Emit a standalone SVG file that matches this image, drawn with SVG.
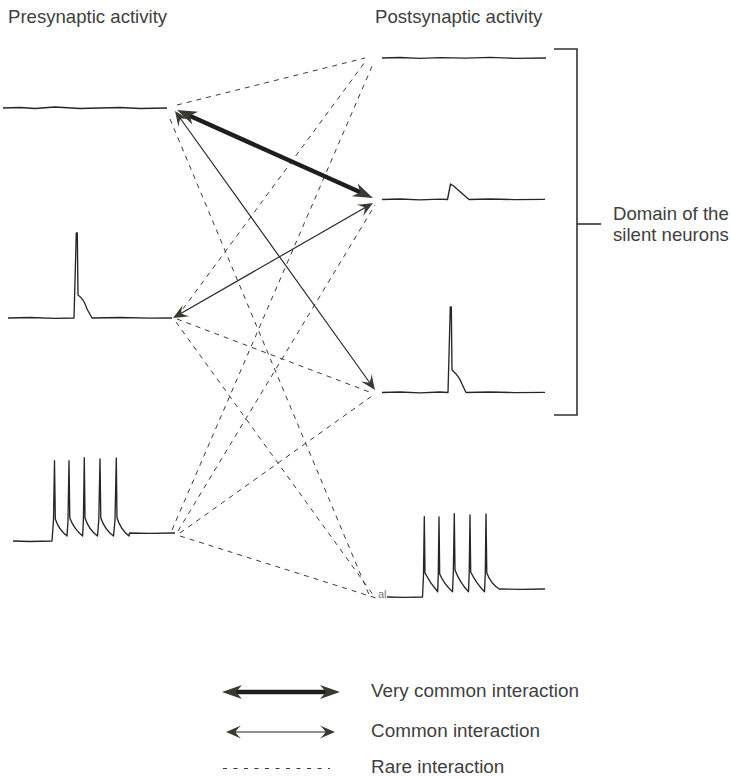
<svg xmlns="http://www.w3.org/2000/svg" width="731" height="778" viewBox="0 0 731 778">
<style>
  text { font-family: "Liberation Sans", Arial, sans-serif; fill: #404040; }
  .title { font-size: 18.6px; }
  .lbl { font-size: 18.9px; }
  .trace { fill: none; stroke: #262626; stroke-width: 1.35; stroke-linejoin: round; }
  .rare { fill: none; stroke: #3a3a3a; stroke-width: 1; stroke-dasharray: 5 5; }
  .thick { fill: none; stroke: #1e1e1e; stroke-width: 4.4; marker-start: url(#headThick); marker-end: url(#headThick); }
  .thin { fill: none; stroke: #222; stroke-width: 1.15; marker-start: url(#headThin); marker-end: url(#headThin); }
  .bracket { fill: none; stroke: #333; stroke-width: 1.6; }
</style>
<defs>
  <marker id="headThick" viewBox="-25 -12 30 24" markerWidth="30" markerHeight="24" refX="-12" refY="0" orient="auto-start-reverse" markerUnits="userSpaceOnUse">
    <path d="M0,0 L-20,-7 L-14,0 L-20,7 Z" fill="#393b33"/>
  </marker>
  <marker id="headThin" viewBox="-25 -12 30 24" markerWidth="30" markerHeight="24" refX="-8" refY="0" orient="auto-start-reverse" markerUnits="userSpaceOnUse">
    <path d="M0,0 Q-7,-3 -15,-6.5 Q-10.5,-2.2 -9.5,0 Q-10.5,2.2 -15,6.5 Q-7,3 0,0 Z" fill="#393b33"/>
  </marker>
</defs>

<text class="title" x="8" y="22.5">Presynaptic activity</text>
<text class="title" x="375" y="22.5">Postsynaptic activity</text>

<g id="pre1">
  <path class="trace" d="M3,108 L20,107.5 L35,108.5 L55,107 L80,108.5 L100,108 L120,107.5 L140,108.5 L167,108"/>
</g>
<g id="pre2">
  <path class="trace" d="M8,318 L30,317.5 L55,318.3 L74,318 L76.3,233 L77.3,233 L78,295 Q84,299 87,309 L92,318 L120,317.5 L150,318.2 L172,318"/>
</g>
<g id="pre3">
  <path class="trace" d="M13,541 L30,541.5 L52,541 L53.5,520 L54.5,460.7 L55.3,519 Q59,530 67,536 L68,521 L69,460.7 L69.8,518 Q74,529 82.6,536 L83.4,520 L84.3,457.7 L85,518 Q89,530 97.5,536 L98.8,520 L100,459 L100.8,518 Q105,530 113.5,536 L115,520 L116.3,458 L117,518 Q121,530 129,536 L129.5,533 L150,533.3 L175,533"/>
</g>
<g id="post1">
  <path class="trace" d="M382,58 L400,57.5 L420,58.3 L440,57.6 L465,58.2 L490,57.4 L515,58.3 L546,58"/>
</g>
<g id="post2">
  <path class="trace" d="M382,199.5 L400,199 L420,199.8 L440,199.2 L447.5,199.5 L450.5,184 L453,185.5 L469,199.5 L490,199 L515,199.6 L545,199.3"/>
</g>
<g id="post3">
  <path class="trace" d="M382,392.5 L400,392 L420,392.8 L440,392 L448,392.5 L450.3,307 L451.3,307 L452,370 Q459,376 462,384 L466,392.5 L490,392 L515,392.6 L545,392.3"/>
</g>
<g id="post4">
  <text x="378" y="598" style="font-size:11px; fill:#777;">al</text>
  <path class="trace" d="M387,597 L405,597.3 L422.5,597 L423.5,575 L424.3,516.7 L425,573 Q430,583 437.7,591.7 L438.3,573 L439,517 L439.7,574 Q444,584 452.5,591.7 L453.3,573 L454.3,513.7 L455,570 Q460,583 468.5,591.7 L469.2,573 L470,515 L470.7,572 Q476,583 484.5,591.7 L485.3,573 L486,514 L486.8,573 Q491,584 499.3,589 L520,589.3 L545,589"/>
</g>

<g id="domain">
  <path class="bracket" d="M554,49 L577,49 L577,415 L554,415"/>
  <path class="bracket" d="M577,224 L601,224"/>
  <text class="title" x="613" y="220">Domain of the</text>
  <text class="title" x="613" y="241">silent neurons</text>
</g>

<g id="connectors">
  <line class="rare" x1="177" y1="105" x2="365" y2="58"/>
  <line class="rare" x1="170" y1="119" x2="370" y2="597"/>
  <line class="rare" x1="177" y1="317" x2="365" y2="62"/>
  <line class="rare" x1="177" y1="319" x2="372" y2="393"/>
  <line class="rare" x1="176" y1="322" x2="374" y2="596"/>
  <line class="rare" x1="172" y1="530" x2="373" y2="64"/>
  <line class="rare" x1="178" y1="531" x2="375" y2="205"/>
  <line class="rare" x1="180" y1="533" x2="372" y2="396"/>
  <line class="rare" x1="180" y1="536" x2="376" y2="598"/>
  <line class="thick" x1="187.95" y1="114.92" x2="362.05" y2="193.08"/>
  <line class="thin" x1="179.66" y1="117.5" x2="370.34" y2="383.5"/>
  <line class="thin" x1="179.94" y1="314.01" x2="366.06" y2="206.99"/>
</g>

<g id="legend">
  <line class="thick" x1="234" y1="692" x2="328" y2="692"/>
  <text class="lbl" x="371" y="697">Very common interaction</text>
  <line class="thin" x1="234" y1="732" x2="327" y2="732"/>
  <text class="lbl" x="371" y="737">Common interaction</text>
  <line class="rare" x1="223" y1="768.5" x2="330" y2="768.5" style="stroke-dasharray:4 6.5"/>
  <text class="lbl" x="371" y="773">Rare interaction</text>
</g>
</svg>
